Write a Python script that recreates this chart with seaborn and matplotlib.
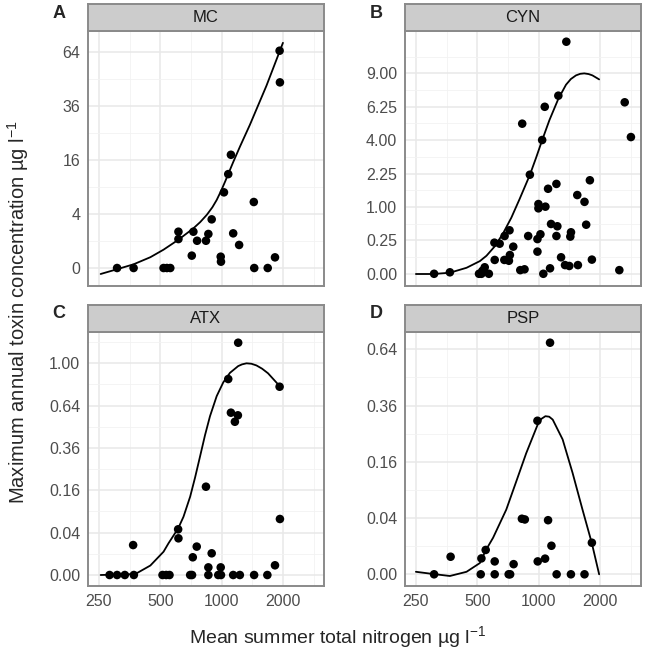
import numpy as np
import pandas as pd
import matplotlib
matplotlib.use('Agg')
import matplotlib.pyplot as plt
import seaborn as sns
from matplotlib.ticker import NullFormatter

sns.set_theme(style='white')
plt.rcParams['font.family'] = ['Liberation Sans', 'DejaVu Sans']
plt.rcParams['mathtext.fontset'] = 'custom'
plt.rcParams['mathtext.rm'] = 'Liberation Sans'
plt.rcParams['mathtext.it'] = 'Liberation Sans'

# observed lakes: mean summer TN (ug/l) vs max annual toxin (ug/l)
mc_n = [307, 370, 519, 539, 560, 614, 614, 714, 727, 758, 838, 861, 894, 990, 993,
        1027, 1078, 1111, 1140, 1219, 1439, 1446, 1684, 1828, 1926, 1933]
mc_tox = [0, 0, 0, 0, 0, 1.81, 1.15, 0.21, 1.81, 1.02, 1.02, 1.59, 3.25, 0.176, 0.055,
          7.86, 12.1, 17.6, 1.65, 0.73, 5.98, 0, 0, 0.156, 64.8, 47.3]

cyn_n = [307, 367, 510, 524, 530, 544, 570, 607, 609, 644, 679, 681, 715, 720, 723,
         751, 813, 831, 853, 889, 906, 987, 987, 998, 998, 1021, 1041, 1055, 1072, 1080,
         1113, 1138, 1151, 1223, 1223, 1236, 1250, 1289, 1348, 1368, 1414, 1431, 1442,
         1548, 1559, 1680, 1712, 1785, 1826, 2490, 2646, 2838]
cyn_tox = [0, 0.0005, 0, 0, 0.002, 0.0095, 0, 0.217, 0.043, 0.203, 0.043, 0.32, 0.038, 0.424, 0.079,
           0.165, 0.003, 5.05, 0.0045, 0.32, 2.20, 0.27, 0.11, 1.09, 0.96, 0.35, 4.01, 0, 6.25, 1.01,
           1.62, 0.0067, 0.556, 1.81, 0.32, 0.506, 7.11, 0.061, 0.017, 12.07, 0.0137, 0.31, 0.386,
           1.39, 0.017, 1.16, 0.54, 1.96, 0.045, 0.003, 6.59, 4.19]

atx_n = [282, 307, 335, 371, 368, 513, 535, 555, 612, 614, 701, 716, 722, 755, 838,
         861, 861, 894, 963, 990, 993, 1078, 1111, 1140, 1162, 1202, 1206, 1229, 1444,
         1677, 1828, 1926, 1933]
atx_tox = [0, 0, 0, 0, 0.020, 0, 0, 0, 0.0466, 0.030, 0, 0, 0.007, 0.018, 0.174,
           0.0013, 0, 0.0105, 0, 0.0013, 0, 0.857, 0.588, 0, 0.524, 0.569, 1.204, 0, 0,
           0, 0.0021, 0.791, 0.07]

psp_n = [307, 370, 520, 524, 550, 609, 609, 713, 725, 754, 828, 856, 987, 990, 1076,
         1113, 1138, 1156, 1226, 1441, 1680, 1826]
psp_tox = [0, 0.0039, 0, 0.0032, 0.0075, 0, 0.0021, 0, 0, 0.0013, 0.039, 0.038, 0.298, 0.0021, 0.0031,
           0.037, 0.678, 0.0103, 0, 0, 0, 0.0126]

# fitted curves
mc_fit_n = [255, 307, 370, 447, 519, 614, 727, 785, 846, 901, 946, 993, 1043, 1094,
            1141, 1231, 1376, 1660, 2000]
mc_fit_tox = [-0.049, -0.002, 0.019, 0.16, 0.462, 1.10, 2.16, 2.89, 3.88, 5.06, 6.35, 8.12,
              10.37, 12.96, 15.44, 20.25, 28.1, 45.6, 69.6]

cyn_fit_n = [250, 304, 367, 443, 515, 555, 609, 668, 735, 807, 906, 973, 1041, 1130, 1250,
             1363, 1440, 1525, 1600, 1675, 1760, 1838, 1982]
cyn_fit_tox = [-0.00001, -0.00001, 0.00026, 0.0081, 0.0361, 0.0729, 0.168, 0.36, 0.706, 1.254,
               2.19, 3.03, 4.0, 5.29, 6.86, 8.01, 8.5, 8.82, 8.96, 9.0, 8.94, 8.82, 8.47]

atx_fit_n = [255, 377, 447, 519, 549, 612, 650, 701, 741, 784, 829, 877, 946, 1019, 1099,
             1206, 1260, 1325, 1400, 1483, 1580, 1690, 1926]
atx_fit_tox = [0, 0.00002, 0.002, 0.0121, 0.0225, 0.0484, 0.0756, 0.137, 0.212, 0.314, 0.436,
               0.5625, 0.714, 0.828, 0.912, 0.974, 0.99, 1.0, 0.996, 0.98, 0.95, 0.908, 0.797]

psp_fit_n = [250, 304, 367, 443, 515, 550, 598, 694, 777, 869, 987, 1030, 1080, 1127, 1173,
             1312, 1468, 1642, 1826, 1982]
psp_fit_tox = [0.00008, 0.000001, -0.000036, 0.00008, 0.0016, 0.0072, 0.0169, 0.0529, 0.109, 0.185,
               0.281, 0.305, 0.316, 0.314, 0.3025, 0.230, 0.130, 0.053, 0.0121, 0.0]

x_breaks = [250, 500, 1000, 2000]
x_minor = [353.6, 707.1, 1414.2, 2828.4]


def ssqrt(v):
    v = np.asarray(v, dtype=float)
    return np.sign(v) * np.sqrt(np.abs(v))


def ssq(v):
    v = np.asarray(v, dtype=float)
    return np.sign(v) * v ** 2


W, H = 648, 656


def box(x0, y0, x1, y1):
    return [x0 / W, 1 - y1 / H, (x1 - x0) / W, (y1 - y0) / H]


panels = [
    dict(name='MC', tag='A', n=mc_n, tox=mc_tox, fn=mc_fit_n, ft=mc_fit_tox,
         pos=(88, 31, 323.7, 286), strip=(88, 4, 323.7, 31), ylim=(-0.444, 77.1),
         yt=[0, 4, 16, 36, 64], yl=['0', '4', '16', '36', '64'], ym=[1, 9, 25, 49], bottom=False),
    dict(name='CYN', tag='B', n=cyn_n, tox=cyn_tox, fn=cyn_fit_n, ft=cyn_fit_tox,
         pos=(405, 31, 640.7, 286), strip=(405, 4, 640.7, 31), ylim=(-0.0334, 13.21),
         yt=[0, 0.25, 1, 2.25, 4, 6.25, 9],
         yl=['0.00', '0.25', '1.00', '2.25', '4.00', '6.25', '9.00'],
         ym=[0.0625, 0.5625, 1.5625, 3.0625, 5.0625, 7.5625, 10.5625], bottom=False),
    dict(name='ATX', tag='C', n=atx_n, tox=atx_tox, fn=atx_fit_n, ft=atx_fit_tox,
         pos=(88, 331.7, 323.7, 586), strip=(88, 305, 323.7, 331.7), ylim=(-0.0027, 1.321),
         yt=[0, 0.04, 0.16, 0.36, 0.64, 1.0],
         yl=['0.00', '0.04', '0.16', '0.36', '0.64', '1.00'],
         ym=[0.01, 0.09, 0.25, 0.49, 0.81, 1.21], bottom=True),
    dict(name='PSP', tag='D', n=psp_n, tox=psp_tox, fn=psp_fit_n, ft=psp_fit_tox,
         pos=(405, 331.7, 640.7, 586), strip=(405, 305, 640.7, 331.7), ylim=(-0.00173, 0.744),
         yt=[0, 0.04, 0.16, 0.36, 0.64],
         yl=['0.00', '0.04', '0.16', '0.36', '0.64'],
         ym=[0.01, 0.09, 0.25, 0.49], bottom=True),
]

border = '#8A8A8A'
fig = plt.figure(figsize=(W / 100, H / 100), dpi=100)

for p in panels:
    ax = fig.add_axes(box(*p['pos']))
    ax.set_xscale('log')
    ax.set_yscale('function', functions=(ssqrt, ssq))
    ax.set_xlim(221, 3170)
    ax.set_ylim(*p['ylim'])

    ax.set_xticks(x_breaks)
    ax.set_xticks(x_minor, minor=True)
    ax.xaxis.set_minor_formatter(NullFormatter())
    ax.set_yticks(p['yt'])
    ax.set_yticks(p['ym'], minor=True)
    ax.set_yticklabels(p['yl'])
    if p['bottom']:
        ax.set_xticklabels([str(b) for b in x_breaks])
    else:
        ax.set_xticklabels([])
        ax.tick_params(axis='x', which='major', length=0)

    ax.grid(True, which='major', color='#E8E8E8', lw=1.1)
    ax.grid(True, which='minor', color='#F2F2F2', lw=0.6)
    ax.set_axisbelow(True)
    ax.tick_params(which='minor', length=0)
    ax.tick_params(which='major', direction='out', length=3.5, width=0.8, color='#4D4D4D',
                   labelsize=11.5, labelcolor='#4D4D4D', pad=2)
    for s in ax.spines.values():
        s.set_color(border)
        s.set_linewidth(1.4)

    pts = pd.DataFrame({'tn': p['n'], 'tox': p['tox']})
    fit = pd.DataFrame({'tn': p['fn'], 'tox': p['ft']})
    sns.lineplot(data=fit, x='tn', y='tox', ax=ax, color='black', lw=1.3, estimator=None, sort=True)
    sns.scatterplot(data=pts, x='tn', y='tox', ax=ax, color='black', s=38, edgecolor='none', zorder=3)
    ax.set_xlabel('')
    ax.set_ylabel('')

    sx = fig.add_axes(box(*p['strip']))
    sx.set_facecolor('#CCCCCC')
    sx.set_xticks([])
    sx.set_yticks([])
    for s in sx.spines.values():
        s.set_color(border)
        s.set_linewidth(1.4)
    sx.text(0.5, 0.5, p['name'], ha='center', va='center', fontsize=12, color='#1A1A1A',
            transform=sx.transAxes)

    x0, y0 = p['strip'][0], p['strip'][1]
    fig.text((x0 - 29) / W, 1 - (y0 + 9) / H, p['tag'], ha='center', va='center',
             fontsize=13, fontweight='bold')

fig.text(338 / W, 1 - 637 / H, r'Mean summer total nitrogen µg l$^{-1}$',
         ha='center', va='center', fontsize=14)
fig.text(18 / W, 1 - 312 / H, r'Maximum annual toxin concentration µg l$^{-1}$',
         ha='center', va='center', rotation=90, fontsize=14.5)

fig.savefig('out.png', dpi=100, facecolor='white')
